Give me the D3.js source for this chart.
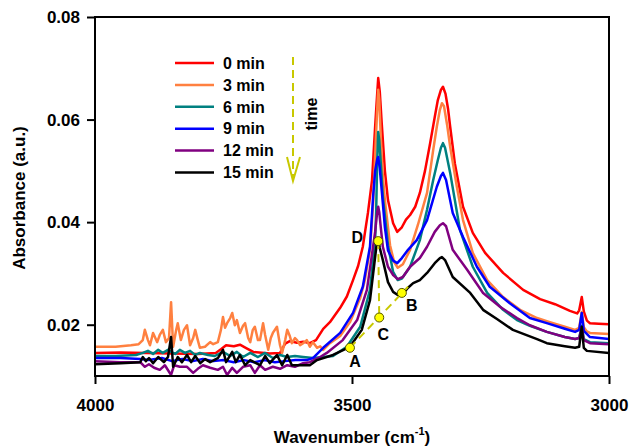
<!DOCTYPE html>
<html lang="en">
<head>
<meta charset="UTF-8">
<title>Absorbance vs wavenumber</title>
<style>
  body { margin: 0; background: #fff; }
  svg { display: block; font-family: "Liberation Sans", Arial, sans-serif; font-weight: bold; }
  .curve { fill: none; stroke-width: 2.5px; stroke-linejoin: round; }
  .guide { stroke: #c8c800; stroke-width: 2px; stroke-dasharray: 8,5; fill: none; }
  .axis text { font-size: 17px; font-weight: bold; fill: #000; }
  .axis line { stroke: #000; stroke-width: 2px; }
</style>
</head>
<body>
<script src="https://cdn.jsdelivr.net/npm/d3@7"></script>
<script>
// [wavenumber, absorbance]
const abs0 = [[4000,.0145],[3950,.0146],[3900,.0145],[3850,.0144],[3800,.0143],[3765,.0145],[3755,.0152],[3745,.0160],[3730,.0158],[3718,.0161],[3705,.0154],[3692,.0147],[3660,.0144],[3640,.0145],[3630,.0163],[3621,.0168],[3607,.0165],[3595,.0167],[3582,.0164],[3570,.0170],[3556,.0192],[3543,.0205],[3523,.0233],[3510,.0255],[3498,.0287],[3488,.0315],[3479,.0352],[3469,.0418],[3461,.0482],[3455,.0586],[3451,.0650],[3449,.0681],[3446,.0655],[3442,.0590],[3436,.0500],[3430,.0443],[3420,.0398],[3412,.0381],[3403,.0390],[3395,.0405],[3387,.0414],[3377,.0430],[3368,.0457],[3358,.0500],[3348,.0554],[3339,.0605],[3333,.0638],[3327,.0658],[3323,.0664],[3318,.0650],[3313,.0620],[3309,.0586],[3300,.0515],[3284,.0430],[3265,.0379],[3241,.0340],[3206,.0301],[3167,.0268],[3134,.0250],[3105,.0240],[3076,.0227],[3062,.0222],[3058,.0228],[3053,.0254],[3049,.0226],[3043,.0208],[3037,.0203],[3020,.0202],[3000,.0201]];

const abs3 = [[4000,.0157],[3960,.0157],[3930,.0160],[3915,.0162],[3907,.0170],[3903,.0190],[3897,.0170],[3893,.0160],[3887,.0184],[3879,.0166],[3874,.0180],[3868,.0190],[3862,.0166],[3856,.0174],[3852,.0244],[3848,.0157],[3842,.0190],[3839,.0203],[3833,.0170],[3827,.0190],[3821,.0199],[3815,.0160],[3809,.0174],[3805,.0190],[3800,.0170],[3796,.0155],[3786,.0157],[3776,.0166],[3770,.0162],[3761,.0166],[3755,.0190],[3751,.0215],[3747,.0194],[3743,.0203],[3737,.0213],[3733,.0223],[3728,.0199],[3724,.0209],[3718,.0184],[3712,.0198],[3708,.0203],[3702,.0174],[3698,.0166],[3693,.0190],[3689,.0196],[3683,.0170],[3679,.0170],[3673,.0203],[3669,.0180],[3663,.0151],[3658,.0174],[3654,.0184],[3646,.0196],[3640,.0160],[3636,.0145],[3630,.0170],[3626,.0190],[3621,.0178],[3617,.0164],[3611,.0174],[3607,.0170],[3601,.0160],[3595,.0164],[3588,.0170],[3582,.0157],[3576,.0166],[3568,.0155],[3562,.0158],[3556,.0151],[3543,.0164],[3523,.0178],[3504,.0205],[3484,.0252],[3475,.0287],[3465,.0346],[3459,.0433],[3455,.0530],[3451,.0620],[3449,.0658],[3447,.0640],[3444,.0565],[3440,.0490],[3436,.0443],[3426,.0355],[3418,.0322],[3411,.0311],[3401,.0318],[3387,.0346],[3372,.0394],[3354,.0457],[3342,.0541],[3335,.0586],[3329,.0619],[3325,.0632],[3321,.0626],[3315,.0590],[3309,.0547],[3296,.0469],[3284,.0404],[3265,.0340],[3237,.0287],[3206,.0254],[3173,.0229],[3140,.0213],[3115,.0205],[3086,.0196],[3066,.0190],[3058,.0194],[3053,.0225],[3049,.0195],[3043,.0187],[3037,.0184],[3000,.0182]];

const abs6 = [[4000,.0139],[3960,.0139],[3920,.0141],[3907,.0145],[3897,.0149],[3887,.0143],[3877,.0151],[3868,.0145],[3858,.0151],[3852,.0147],[3844,.0143],[3835,.0151],[3825,.0145],[3815,.0149],[3805,.0141],[3796,.0145],[3780,.0141],[3767,.0139],[3751,.0147],[3737,.0139],[3724,.0147],[3712,.0137],[3698,.0145],[3683,.0137],[3669,.0145],[3654,.0135],[3640,.0141],[3626,.0137],[3611,.0139],[3595,.0137],[3576,.0135],[3556,.0137],[3537,.0139],[3510,.0157],[3484,.0196],[3465,.0268],[3455,.0365],[3453,.0420],[3451,.0520],[3449,.0576],[3447,.0560],[3444,.0515],[3440,.0450],[3430,.0355],[3420,.0303],[3411,.0287],[3403,.0290],[3387,.0313],[3368,.0365],[3354,.0424],[3342,.0482],[3333,.0521],[3327,.0545],[3323,.0554],[3319,.0545],[3309,.0496],[3290,.0385],[3265,.0313],[3237,.0262],[3206,.0229],[3179,.0209],[3154,.0198],[3121,.0186],[3086,.0176],[3066,.0172],[3058,.0174],[3053,.0198],[3049,.0172],[3037,.0166],[3000,.0164]];

const abs9 = [[4000,.0135],[3950,.0135],[3912,.0133],[3895,.0131],[3870,.0135],[3850,.0129],[3830,.0133],[3810,.0129],[3790,.0133],[3770,.0129],[3750,.0131],[3730,.0127],[3710,.0131],[3690,.0127],[3670,.0131],[3650,.0127],[3630,.0129],[3610,.0131],[3588,.0131],[3576,.0135],[3556,.0155],[3523,.0184],[3498,.0223],[3479,.0274],[3465,.0352],[3459,.0449],[3455,.0500],[3451,.0522],[3449,.0527],[3446,.0505],[3442,.0460],[3436,.0390],[3430,.0345],[3420,.0325],[3412,.0320],[3403,.0330],[3391,.0346],[3374,.0365],[3354,.0404],[3335,.0469],[3327,.0490],[3323,.0496],[3317,.0482],[3304,.0418],[3284,.0371],[3257,.0313],[3232,.0274],[3193,.0242],[3154,.0213],[3121,.0203],[3086,.0192],[3066,.0186],[3058,.0190],[3053,.0223],[3049,.0188],[3037,.0176],[3000,.0172]];

const abs12 = [[4000,.0129],[3950,.0127],[3912,.0127],[3903,.0118],[3895,.0123],[3885,.0116],[3874,.0112],[3864,.0121],[3852,.0102],[3846,.0121],[3835,.0118],[3821,.0118],[3809,.0106],[3800,.0114],[3790,.0121],[3776,.0116],[3761,.0112],[3751,.0118],[3743,.0102],[3733,.0116],[3724,.0106],[3712,.0118],[3698,.0121],[3689,.0106],[3679,.0121],[3669,.0112],[3654,.0118],[3640,.0114],[3626,.0121],[3611,.0118],[3595,.0125],[3582,.0127],[3562,.0137],[3549,.0145],[3518,.0170],[3490,.0209],[3471,.0268],[3459,.0352],[3455,.0381],[3451,.0420],[3449,.0430],[3447,.0420],[3444,.0390],[3440,.0352],[3430,.0313],[3420,.0297],[3411,.0289],[3401,.0293],[3387,.0313],[3368,.0330],[3354,.0352],[3339,.0381],[3329,.0394],[3323,.0398],[3317,.0392],[3304,.0346],[3276,.0307],[3245,.0262],[3212,.0235],[3179,.0213],[3154,.0199],[3121,.0186],[3086,.0176],[3066,.0172],[3058,.0174],[3053,.0194],[3049,.0170],[3037,.0164],[3000,.0162]];

const abs15 = [[4000,.0123],[3950,.0125],[3912,.0127],[3907,.0137],[3901,.0129],[3895,.0135],[3887,.0125],[3877,.0137],[3866,.0127],[3858,.0137],[3852,.0176],[3848,.0118],[3839,.0137],[3831,.0127],[3821,.0141],[3813,.0127],[3805,.0139],[3795,.0125],[3786,.0133],[3776,.0127],[3761,.0135],[3751,.0151],[3745,.0127],[3733,.0147],[3726,.0127],[3718,.0141],[3708,.0121],[3698,.0131],[3679,.0121],[3669,.0139],[3660,.0125],[3646,.0141],[3636,.0121],[3626,.0141],[3617,.0121],[3601,.0121],[3582,.0121],[3568,.0131],[3537,.0141],[3504,.0157],[3481,.0190],[3465,.0248],[3455,.0332],[3451,.0365],[3449,.0365],[3446,.0350],[3440,.0326],[3430,.0283],[3420,.0264],[3411,.0258],[3403,.0258],[3391,.0272],[3381,.0281],[3368,.0287],[3354,.0301],[3339,.0320],[3329,.0330],[3325,.0332],[3319,.0326],[3304,.0293],[3270,.0262],[3245,.0229],[3218,.0211],[3187,.0190],[3140,.0172],[3121,.0164],[3086,.0158],[3066,.0155],[3058,.0157],[3053,.0196],[3049,.0155],[3043,.0149],[3000,.0145]];

const series = [abs0, abs3, abs6, abs9, abs12, abs15];
const times = ["0 min", "3 min", "6 min", "9 min", "12 min", "15 min"];
const colors = ["#ff0000", "#ff8040", "#008080", "#0000ff", "#800080", "#000000"];

// marked points A, B, C, D and the guide lines between them
const markNames = ["A", "B", "C", "D"];
const markWn = [3504, 3403, 3447, 3449];
const markAbs = [0.0155, 0.0262, 0.0214, 0.0363];
const baseLine = [[3504, 0.0155], [3391, 0.0274]];
const heightLine = [[3449, 0.0363], [3447, 0.0214]];

const xTicks = [4000, 3500, 3000];
const yTicks = [0.02, 0.04, 0.06, 0.08];

const width = 630, height = 447;
const margin = { top: 17, right: 21, bottom: 71, left: 95 };

const x = d3.scaleLinear().domain([4000, 3000]).range([margin.left, width - margin.right]);
const y = d3.scaleLinear().domain([0.01, 0.08]).range([height - margin.bottom, margin.top]);

const svg = d3.select("body").append("svg").attr("width", width).attr("height", height);

svg.append("defs").append("clipPath").attr("id", "plot-clip")
  .append("rect")
  .attr("x", margin.left).attr("y", margin.top)
  .attr("width", width - margin.left - margin.right)
  .attr("height", height - margin.top - margin.bottom);

const line = d3.line().x(d => x(d[0])).y(d => y(d[1]));

const curves = svg.append("g").attr("clip-path", "url(#plot-clip)");
series.forEach((s, i) => {
  curves.append("path").attr("class", "curve").attr("d", line(s)).attr("stroke", colors[i]);
});

// axes
const xAxis = svg.append("g").attr("class", "axis")
  .attr("transform", `translate(0,${height - margin.bottom})`)
  .call(d3.axisBottom(x).tickValues(xTicks).tickSize(8).tickPadding(15).tickFormat(d3.format("d")));
const yAxis = svg.append("g").attr("class", "axis")
  .attr("transform", `translate(${margin.left},0)`)
  .call(d3.axisLeft(y).tickValues(yTicks).tickSize(8).tickPadding(7).tickFormat(d3.format(".2f")));
xAxis.select(".domain").remove();
yAxis.select(".domain").remove();

svg.append("rect")
  .attr("x", margin.left).attr("y", margin.top)
  .attr("width", width - margin.left - margin.right)
  .attr("height", height - margin.top - margin.bottom)
  .attr("fill", "none").attr("stroke", "#000").attr("stroke-width", 2);

// axis titles
const xTitle = svg.append("text")
  .attr("x", (margin.left + width - margin.right) / 2).attr("y", 443)
  .attr("text-anchor", "middle").attr("font-size", 17);
xTitle.append("tspan").text("Wavenumber (cm");
xTitle.append("tspan").attr("font-size", 11).attr("dy", -8).text("-1");
xTitle.append("tspan").attr("dy", 8).text(")");

svg.append("text")
  .attr("transform", "translate(25,198) rotate(-90)")
  .attr("text-anchor", "middle").attr("font-size", 17)
  .text("Absorbance (a.u.)");

// guides and marked points
svg.append("path").attr("class", "guide").attr("d", line(baseLine));
svg.append("path").attr("class", "guide").attr("d", line(heightLine));

const labelOffset = { A: [5, 14], B: [10, 13], C: [4, 17], D: [-21, -4] };
markNames.forEach((m, i) => {
  const cx = x(markWn[i]), cy = y(markAbs[i]);
  svg.append("circle").attr("cx", cx).attr("cy", cy).attr("r", 4.5)
    .attr("fill", "#ffff00").attr("stroke", "#555500").attr("stroke-width", 1);
  svg.append("text")
    .attr("x", cx + labelOffset[m][0]).attr("y", cy + labelOffset[m][1])
    .attr("text-anchor", "middle").attr("dominant-baseline", "central")
    .attr("font-size", 16).text(m);
});

// legend
const legend = svg.append("g").attr("transform", "translate(175,63)");
times.forEach((t, i) => {
  const row = legend.append("g").attr("transform", `translate(0,${i * 21.9})`);
  row.append("line").attr("x1", 0).attr("x2", 39).attr("stroke", colors[i]).attr("stroke-width", 2.5);
  row.append("text").attr("x", 48).attr("dy", "0.36em").attr("font-size", 16).text(t);
});

// time arrow
svg.append("line").attr("class", "guide")
  .attr("x1", 293).attr("x2", 293).attr("y1", 57).attr("y2", 180)
  .attr("stroke-dasharray", "11,6");
svg.append("path")
  .attr("d", "M287,157L293,181L300,157")
  .attr("fill", "none").attr("stroke", "#c8c800").attr("stroke-width", 2);
svg.append("text")
  .attr("transform", "translate(317,114) rotate(-90)")
  .attr("text-anchor", "middle").attr("font-size", 16)
  .text("time");
</script>
</body>
</html>
